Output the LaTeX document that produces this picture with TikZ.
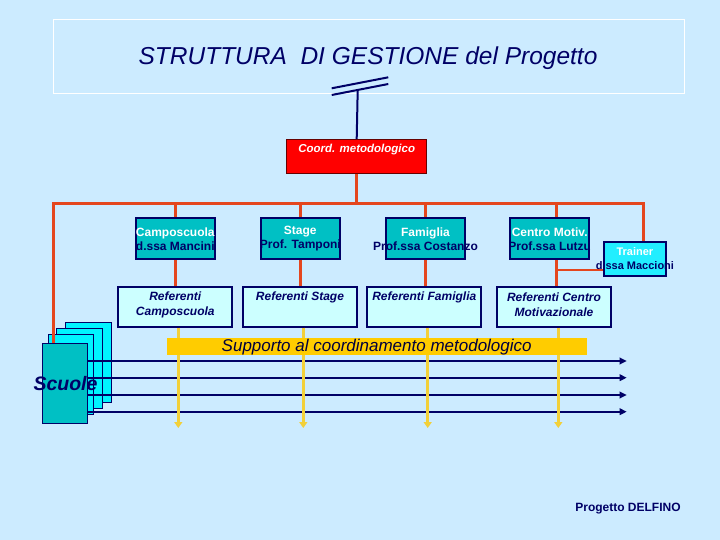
\documentclass[tikz,border=0pt]{standalone}
\usepackage{fontspec}
\setmainfont{Liberation Sans}
\usetikzlibrary{arrows.meta}
\definecolor{bgc}{HTML}{CCEBFF}
\definecolor{navy}{HTML}{000066}
\definecolor{redl}{HTML}{E4461E}
\definecolor{tealc}{HTML}{00C0C4}
\definecolor{trainc}{HTML}{22EEFF}
\definecolor{refc}{HTML}{CCFFFF}
\definecolor{yell}{HTML}{F2D03A}
\definecolor{bandc}{HTML}{FFCC00}
\definecolor{cyanc}{HTML}{00F4FF}
\definecolor{coordc}{HTML}{FF0000}
\pgfdeclarelayer{bottom}
\pgfdeclarelayer{background}
\pgfsetlayers{bottom,background,main}
\begin{document}
\begin{tikzpicture}[x=1pt,y=-1pt,
  topbox/.style={draw=navy, line width=1.8pt, fill=tealc, minimum width=79pt, minimum height=41pt, inner ysep=0pt, inner xsep=-15pt, align=center, text=navy, font=\fontsize{12}{14}\selectfont\bfseries},
  refbox/.style={draw=navy, line width=1.8pt, fill=refc, minimum width=114pt, minimum height=40pt, inner sep=0pt},
  reftext/.style={align=center, inner sep=0pt, text=navy, font=\fontsize{12}{15}\selectfont\bfseries\itshape},
  card/.style={draw=navy, line width=1pt, minimum width=45.5pt, minimum height=80pt, inner sep=0pt},
  redline/.style={draw=redl, line width=3pt},
  navyarrow/.style={draw=navy, line width=2pt, -{Triangle[length=7pt,width=6.5pt]}},
  yarrow/.style={draw=yell, line width=3pt, -{Triangle[length=6pt,width=8pt]}}]
\begin{pgfonlayer}{bottom}
\fill[bgc] (0,0) rectangle (720,540);
\end{pgfonlayer}
\useasboundingbox (0,0) rectangle (720,540);
% title
\node[draw=white, line width=1pt, minimum width=631pt, minimum height=74pt, inner sep=0pt] (titlebox) at (368.5,57) {};
\node[text=navy, font=\fontsize{24.5}{28}\selectfont\itshape] (title) at (368,58) {STRUTTURA\ \ DI GESTIONE del Progetto};
% antenna
\draw[navy, line width=2pt] (331.7,88.3) -- (388.3,77.3);
\draw[navy, line width=2pt] (331.7,95) -- (388.3,84);
\coordinate (ant) at (357.7,90);
% coord
\node[draw=black!60!red, line width=1pt, fill=coordc, minimum width=140pt, minimum height=34pt, inner sep=0pt] (coord) at (356.7,156.3) {};
\node[text=white, font=\fontsize{11.5}{14}\selectfont\bfseries\itshape] (coordtxt) at (356.7,150) {Coord. metodologico};
\draw[navy, line width=2pt] (ant) -- (coord.north);
% top boxes
\node[topbox] (campo) at (175.3,238.8) {\textcolor{white}{Camposcuola}\\d.ssa Mancini};
\node[topbox] (stage) at (300.3,238.8) {\textcolor{white}{Stage}\\Prof. Tamponi};
\node[topbox] (fam) at (425.5,238.8) {\textcolor{white}{Famiglia}\\Prof.ssa Costanzo};
\node[topbox] (centro) at (549.7,238.8) {\textcolor{white}{Centro Motiv.}\\Prof.ssa Lutzu};
\node[topbox, fill=trainc, minimum width=62pt, minimum height=34pt, inner xsep=-20pt, font=\fontsize{11}{14.5}\selectfont\bfseries] (trainer) at (634.9,258.8) {\textcolor{white}{Trainer}\\d.ssa Maccioni};
% referenti boxes
\node[refbox] (rcampo) at (175.3,306.7) {};
\node[refbox] (rstage) at (300,306.7) {};
\node[refbox] (rfam) at (424.3,306.7) {};
\node[refbox] (rcentro) at (554,306.7) {};
\node[reftext] (trcampo) at (175.3,305) {Referenti\\Camposcuola};
\node[reftext] (trstage) at (300,297.3) {Referenti Stage};
\node[reftext] (trfam) at (424.3,297.3) {Referenti Famiglia};
\node[reftext] (trcentro) at (554,305) {Referenti Centro\\Motivazionale};
% scuole front card
\node[card, fill=tealc] (front) at (65,383.3) {};
% navy arrows
\coordinate (e1) at (626.7,361);
\coordinate (e2) at (626.7,377.7);
\coordinate (e3) at (626.7,395);
\coordinate (e4) at (626.7,411.7);
\foreach \e in {e1,e2,e3,e4} \draw[navyarrow] (front.east |- \e) -- (\e);
\node[text=navy, font=\fontsize{19.5}{22}\selectfont\bfseries\itshape] (scuoletxt) at (65.5,384) {Scuole};
% yellow arrows
\coordinate (y1) at (178.3,428);
\coordinate (y2) at (303.3,428);
\coordinate (y3) at (427.7,428);
\coordinate (y4) at (558.3,428);
\draw[yarrow] (rcampo.south -| y1) -- (y1);
\draw[yarrow] (rstage.south -| y2) -- (y2);
\draw[yarrow] (rfam.south -| y3) -- (y3);
\draw[yarrow] (rcentro.south -| y4) -- (y4);
% band
\node[fill=bandc, minimum width=420pt, minimum height=16.7pt, inner sep=0pt, text=navy!60!black, font=\fontsize{17}{20}\selectfont\itshape] (band) at (376.7,346.7) {Supporto al coordinamento metodologico};
% footer
\node[text=navy, font=\fontsize{12}{14}\selectfont\bfseries] (delfino) at (628,509) {Progetto DELFINO};
% background layer: back cards and red lines
\begin{pgfonlayer}{background}
\node[card, fill=cyanc] (card4) at (88.35,362.7) {};
\node[card, fill=cyanc] (card3) at (79.7,368.8) {};
\node[card, fill=cyanc] (card2) at (71.15,374.65) {};
\coordinate (busL) at (53.3,203.3);
\coordinate (busR) at (643.3,203.3);
\coordinate (cx) at (556.7,203.3);
\coordinate (tl) at (556.7,270);
\draw[redline] (front.north -| busL) -- (busL) -- (busR) -- (busR |- trainer.north);
\draw[redline] (coord.south) -- (coord.south |- busL);
\draw[redline] (busL -| rcampo.north) -- (rcampo.north);
\draw[redline] (busL -| rstage.north) -- (rstage.north);
\draw[redline] (busL -| fam.north) -- (fam.north |- rfam.north);
\draw[redline] (cx) -- (cx |- rcentro.north);
\draw[draw=redl, line width=1.3pt] (tl) -- (tl -| trainer.west);
\end{pgfonlayer}
\end{tikzpicture}
\end{document}
